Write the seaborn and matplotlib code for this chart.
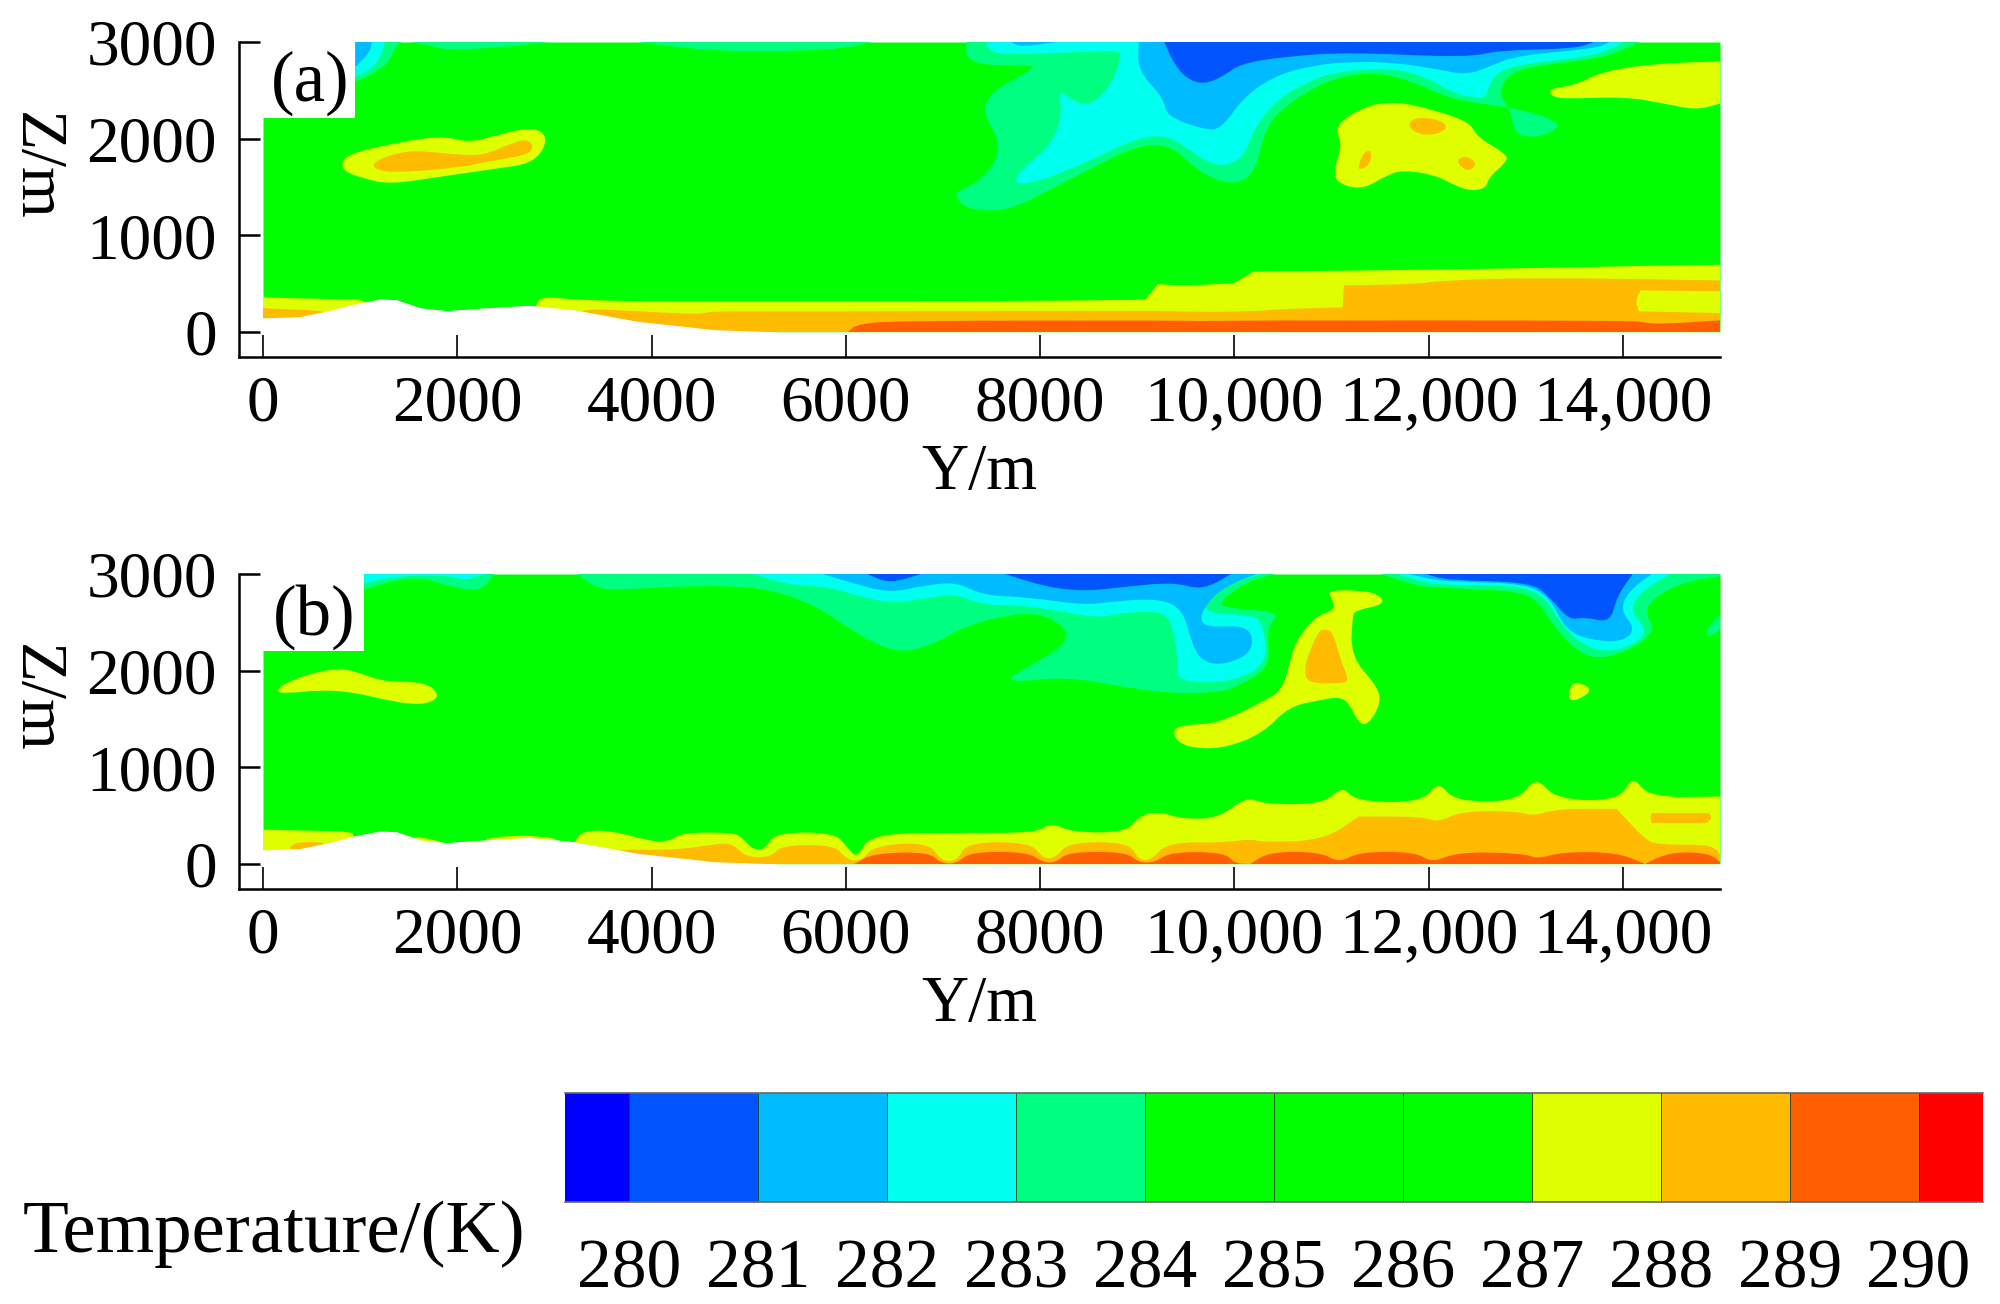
import matplotlib
matplotlib.use("Agg")
import matplotlib.pyplot as plt
from matplotlib.colors import BoundaryNorm, ListedColormap
from matplotlib.patches import PathPatch
from matplotlib.path import Path
import numpy as np
import seaborn as sns

# =========================================================================
# 1. DATA (Y in m, Z in m, T in K)
# =========================================================================
x_ticks = [0, 2000, 4000, 6000, 8000, 10000, 12000, 14000]
x_tick_labels = ["0", "2000", "4000", "6000", "8000", "10,000", "12,000", "14,000"]
z_ticks = [0, 1000, 2000, 3000]
z_tick_labels = ["0", "1000", "2000", "3000"]

# Colour scale: the strip is drawn as half degree cells
band_names = ["<280", "280", "281", "282", "283", "284", "285", "286", "287", "288", "289", ">290"]
band_colors = ["#0000FF", "#0055FF", "#00BBFF", "#00FFEE", "#00FF80", "#00FF00",
               "#00FF00", "#00FF00", "#DFFF00", "#FFBB00", "#FF5F00", "#FF0000"]
scale_edges = [279.5, 280, 281, 282, 283, 284, 285, 286, 287, 288, 289, 290, 290.5]
scale_cells = [279.75, 280.25, 280.75, 281.25, 281.75, 282.25, 282.75, 283.25, 283.75, 284.25, 284.75,
               285.25, 285.75, 286.25, 286.75, 287.25, 287.75, 288.25, 288.75, 289.25, 289.75, 290.25]
scale_labels = ["280", "281", "282", "283", "284", "285", "286", "287", "288", "289", "290"]

# Ground line, shared by both sections
terrain_y = [0, 380, 640, 905, 1200, 1365, 1627, 1890, 2283, 2742, 3200, 3857, 4644, 5300, 15000]
terrain_z = [145, 160, 213, 282, 340, 334, 248, 220, 248, 275, 230, 110, 24, 0, 0]

# --- Section (a) ---
a_mask_y, a_mask_z = 950, 2214

a_y287_left_y = [0, 450, 800, 1100, 1100, 0]
a_y287_left_z = [358, 345, 340, 334, 0, 145]
a_o288_left_y = [0, 200, 545, 660, 660, 0]
a_o288_left_z = [248, 237, 224, 200, 0, 145]

# repeated points keep the steps of the low layers sharp
a_y287_low_y = [2800, 2873, 3200, 3857, 4513, 6556, 8163, 9080, 9080, 9212, 9212, 9508, 10000, 10000, 10197,
                10197, 11148, 13116, 14362, 15000, 15000, 2800]
a_y287_low_z = [275, 368, 334, 316, 316, 316, 323, 334, 334, 495, 495, 478, 506, 506, 626,
                626, 633, 660, 688, 695, 0, 0]
a_o288_low_y = [3200, 3857, 4513, 4578, 5170, 6556, 9180, 9640, 10200, 10492, 11115, 11115, 11128, 11128,
                11900, 12130, 13116, 15000, 15000, 3200]
a_o288_low_z = [248, 215, 179, 213, 213, 213, 220, 206, 213, 237, 255, 255, 482, 482,
                495, 533, 564, 533, 0, 0]
a_y287_hole_y = [14185, 14185, 15000, 15000, 14165, 14165, 14130]
a_y287_hole_z = [430, 430, 420, 196, 213, 213, 334]
a_r289_low_y = [6022, 6120, 6612, 9508, 9640, 9970, 14100, 14230, 14428, 15000, 15000, 6022]
a_r289_low_z = [0, 86, 117, 120, 110, 120, 120, 93, 83, 120, 0, 0]

a_y287_west_y = [807, 872, 1168, 1824, 2119, 2414, 2676, 2873, 2926, 2775, 2414, 1824, 1299, 1036, 840]
a_y287_west_z = [1744, 1830, 1916, 2036, 1957, 2036, 2105, 2088, 1950, 1744, 1692, 1606, 1527, 1589, 1658]
a_o288_west_y = [1122, 1299, 1561, 2020, 2283, 2545, 2755, 2788, 2414, 1955, 1364, 1168]
a_o288_west_z = [1744, 1830, 1882, 1830, 1830, 1950, 2002, 1847, 1778, 1692, 1648, 1675]

a_g283_nw_y = [951, 1430, 1365, 1300, 1233, 1100, 951]
a_g283_nw_z = [3000, 3000, 2960, 2800, 2742, 2650, 2587]
a_c282_nw_y = [951, 1253, 1213, 1120, 951]
a_c282_nw_z = [3000, 3000, 2845, 2720, 2640]
a_b281_nw_y = [951, 1122, 1102, 951]
a_b281_nw_z = [3000, 3000, 2896, 2742]
a_g283_top1_y = [1500, 1700, 1889, 2300, 2600, 2940]
a_g283_top1_z = [3000, 2970, 2914, 2935, 2960, 3000]
a_g283_top2_y = [3850, 4250, 4700, 5500, 6000, 6270]
a_g283_top2_z = [3000, 2950, 2905, 2905, 2935, 3000]

a_g283_y = [7245, 7232, 7409, 7900, 7934, 7540, 7409, 7474, 7573, 7540, 7343, 7133, 7146, 7278, 7671,
            8098, 8524, 8983, 9246, 9442, 9639, 9902, 10098, 10230, 10295, 10426, 10820, 11148, 11476,
            11804, 12132, 12394, 12788, 13116, 13365, 13247, 13050, 12886, 12840, 12722, 12821, 13116,
            13772, 14067, 14166]
a_g283_z = [3000, 2845, 2759, 2759, 2724, 2518, 2329, 2157, 1985, 1744, 1538, 1452, 1366, 1262, 1252,
            1469, 1692, 1916, 1944, 1847, 1658, 1538, 1555, 1710, 2019, 2260, 2535, 2656, 2680,
            2604, 2449, 2380, 2329, 2260, 2150, 2054, 2009, 2054, 2294, 2466, 2673, 2759,
            2828, 2948, 3000]
a_c282_y = [7442, 7474, 7638, 8786, 8839, 8754, 8524, 8327, 8183, 8229, 8130, 7802, 7724, 7934, 8458,
            8983, 9279, 9475, 9705, 9902, 10098, 10197, 10426, 10820, 11148, 11673, 12001, 12263, 12526,
            12591, 12657, 12854, 13640, 13936, 14002]
a_c282_z = [3000, 2914, 2862, 2914, 2879, 2587, 2336, 2398, 2508, 2260, 1950, 1675, 1538, 1538, 1744,
            2002, 2036, 1933, 1761, 1710, 1813, 2088, 2398, 2622, 2707, 2725, 2621, 2466, 2415,
            2432, 2639, 2759, 2845, 2948, 3000]
a_b281_y = [9016, 9003, 9278, 9298, 9705, 9869, 10098, 10426, 10820, 11148, 11607, 12066, 12394, 12657,
            12919, 13706, 13870]
a_b281_z = [3000, 2707, 2415, 2233, 2088, 2105, 2432, 2656, 2759, 2793, 2793, 2724, 2656, 2759,
            2862, 2931, 3000]
a_b281_patch_y = [7704, 7802, 8163]
a_b281_patch_z = [3000, 2948, 3000]
a_d280_y = [9278, 9377, 9508, 9692, 9902, 10066, 10492, 11148, 12394, 12722, 13510, 13703]
a_d280_z = [3000, 2776, 2621, 2559, 2656, 2776, 2845, 2896, 2838, 2914, 2931, 3000]

a_y287_east_y = [13228, 13510, 13772, 14297, 15000, 15000, 14756, 14428, 14034, 13510, 13280]
a_y287_east_z = [2518, 2552, 2690, 2776, 2800, 2363, 2295, 2363, 2432, 2415, 2422]
a_y287_mid_y = [11036, 11148, 11410, 11673, 12001, 12427, 12493, 12821, 12788, 12624, 12591, 12427,
                12263, 12066, 11738, 11574, 11345, 11148, 11004, 11115]
a_y287_mid_z = [2088, 2226, 2353, 2380, 2312, 2174, 2019, 1830, 1744, 1606, 1486, 1459,
                1520, 1624, 1675, 1624, 1486, 1503, 1606, 1950]
a_o288_s1_y = [11790, 11902, 12140, 12200, 12001, 11825]
a_o288_s1_z = [2170, 2225, 2190, 2095, 2025, 2080]
a_o288_s2_y = [11270, 11335, 11420, 11395, 11300]
a_o288_s2_z = [1700, 1870, 1875, 1730, 1680]
a_o288_s3_y = [12300, 12394, 12500, 12425, 12315]
a_o288_s3_z = [1795, 1820, 1745, 1660, 1715]

# --- Section (b) ---
b_mask_y, b_mask_z = 1043, 2203

b_y287_left_y = [0, 500, 905, 940, 940, 0]
b_y287_left_z = [354, 344, 337, 285, 0, 145]
b_o288_left_y = [282, 577, 660, 282]
b_o288_left_z = [217, 234, 190, 100]
b_y287_sl1_y = [1500, 1900, 1700]
b_y287_sl1_z = [300, 220, 200]
b_y287_sl2_y = [2280, 2550, 2800, 3100, 2700, 2300]
b_y287_sl2_z = [265, 292, 292, 250, 200, 200]

b_y287_low_y = [3200, 3300, 3595, 3988, 4185, 4316, 4841, 4939, 5038, 5170, 5268, 5891, 6022, 6120, 6252,
                7212, 7966, 8110, 8327, 8885, 9016, 9212, 9475, 9836, 10131, 10295, 10918, 11115, 11247,
                11935, 12099, 12263, 12919, 13103, 13313, 13969, 14100, 14264, 15000, 15000, 3200]
b_y287_low_z = [234, 345, 345, 234, 234, 325, 325, 268, 150, 150, 325, 325, 160, 60, 315,
                322, 322, 430, 327, 327, 490, 545, 464, 475, 700, 619, 619, 810, 647,
                636, 860, 647, 647, 910, 664, 657, 920, 688, 698, 0, 0]
b_o288_low_y = [3529, 4251, 4710, 4841, 4972, 5235, 5333, 5891, 5990, 6153, 6284, 6851, 6982, 7146, 7245,
                7900, 8032, 8163, 8294, 8918, 9016, 9147, 9311, 9902, 10164, 10295, 10918, 11279, 11279,
                11935, 12099, 12329, 12919, 13083, 13313, 13936, 13936, 14231, 14362, 14821, 14953, 15000,
                15000, 3529]
b_o288_low_z = [155, 141, 215, 205, 70, 70, 195, 195, 60, 20, 190, 225, 30, 30, 225,
                225, 55, 65, 225, 225, 40, 40, 225, 220, 260, 224, 244, 490, 490,
                490, 430, 545, 545, 495, 570, 570, 570, 251, 200, 200, 165, 96, 0, 0]
b_o288_isl_y = [14297, 14297, 14887, 14887, 14920, 14854, 14854, 14297, 14297, 14280]
b_o288_isl_z = [526, 526, 526, 526, 475, 423, 423, 423, 423, 475]
b_r289_low_y = [6088, 6284, 6851, 6982, 7146, 7277, 7868, 8032, 8163, 8294, 8885, 9016, 9180, 9344, 9902,
                10000, 10164, 10360, 10885, 11082, 11279, 11870, 12034, 12296, 12985, 13116, 13378, 13936,
                14231, 14362, 14559, 14887, 15000, 15000, 6088]
b_r289_low_z = [0, 110, 125, 5, 5, 125, 125, 15, 15, 125, 125, 15, 15, 125, 120,
                5, 0, 125, 125, 10, 125, 125, 10, 125, 110, 50, 125, 120,
                0, 70, 125, 110, 20, 0, 0]

b_y287_west_y = [131, 216, 512, 774, 971, 1233, 1660, 1810, 1758, 1561, 1233, 905, 577, 249]
b_y287_west_z = [1782, 1868, 1978, 2023, 1988, 1885, 1885, 1765, 1679, 1645, 1703, 1782, 1799, 1765]

b_g283_nw_y = [1043, 2381, 2283, 2152, 1889, 1627, 1364, 1043]
b_g283_nw_z = [3000, 3000, 2866, 2824, 2883, 2962, 2941, 2838]
b_c282_nw_y = [1043, 2300, 2184, 2086, 1889, 1364, 1043]
b_c282_nw_z = [3000, 3000, 2969, 2934, 2986, 2979, 2904]

b_g283_y = [3234, 3464, 3857, 4513, 5170, 5694, 6153, 6547, 6884, 7212, 7671, 7999, 8229, 8294, 8130, 7737,
            7671, 8262, 8852, 9311, 9836, 10066, 10374, 10328, 10492, 9836, 9902, 10164, 10426]
b_g283_z = [3000, 2831, 2848, 2883, 2858, 2676, 2350, 2178, 2264, 2453, 2580, 2590, 2470, 2350, 2178, 1971,
            1875, 1937, 1834, 1765, 1771, 1851, 2040, 2453, 2608, 2652, 2762, 2934, 3000]
b_c282_thin_y = [3365, 3529, 3857, 4513, 5100]
b_c282_thin_z = [3000, 2934, 2950, 2985, 3000]
b_c282_y = [5038, 5431, 5825, 6153, 6481, 6809, 7137, 7409, 7868, 8590, 8786, 9278, 9377, 9423, 9410,
            9967, 10348, 10295, 10197, 9770, 9672, 9803, 10098, 10295]
b_c282_z = [3000, 2883, 2866, 2762, 2700, 2745, 2797, 2676, 2676, 2539, 2590, 2624, 2418, 2074, 1885,
            1875, 2074, 2487, 2573, 2590, 2676, 2831, 2952, 3000]
b_b281_y = [5760, 6088, 6450, 6818, 7146, 7409, 7868, 8458, 8786, 9246, 9475, 9560, 9672, 9902, 10197,
            10164, 9705, 9639, 9770, 9967, 10230]
b_b281_z = [3000, 2900, 2804, 2883, 2917, 2779, 2762, 2676, 2721, 2745, 2625, 2281, 2092, 2057, 2195,
            2470, 2446, 2556, 2762, 2900, 3000]
b_d280_p1_y = [6219, 6450, 6776]
b_d280_p1_z = [3000, 2900, 3000]
b_d280_p2_y = [7638, 8065, 8458, 8852, 9377, 9672, 9967]
b_d280_p2_z = [3000, 2865, 2821, 2865, 2917, 2831, 3000]

b_g283_e_y = [11509, 11804, 12001, 12854, 13116, 13313, 13575, 13838, 14166, 14330, 14231, 14297, 14625,
              15000, 15000]
b_g283_e_z = [3000, 2900, 2859, 2831, 2745, 2418, 2160, 2126, 2264, 2436, 2590, 2745, 2917, 2976, 3000]
b_c282_e_y = [11673, 11935, 12198, 12854, 13181, 13378, 13640, 13903, 14198, 14231, 14067, 14198, 14494]
b_c282_e_z = [3000, 2917, 2883, 2883, 2797, 2453, 2229, 2195, 2315, 2453, 2625, 2831, 3000]
b_b281_e_y = [11804, 12066, 12394, 12985, 13247, 13411, 13674, 14002, 14133, 13969, 14067, 14297]
b_b281_e_z = [3000, 2934, 2917, 2900, 2762, 2418, 2315, 2298, 2436, 2625, 2831, 3000]
b_d280_e_y = [11968, 12198, 13050, 13247, 13444, 13608, 13870, 13936, 14100]
b_d280_e_z = [3000, 2934, 2917, 2762, 2522, 2556, 2494, 2762, 3000]
b_g283_edge_y = [15000, 14874, 14854, 15000]
b_g283_edge_z = [2573, 2453, 2332, 2418]

b_y287_mid_y = [10951, 11279, 11476, 11555, 11247, 11214, 11200, 11476, 11509, 11378, 11279, 11181, 11082,
                10885, 10558, 10295, 9902, 9574, 9410, 9364, 9475, 9836, 10295, 10492, 10570, 10623, 10820,
                11030, 11017]
b_y287_mid_z = [2831, 2831, 2797, 2687, 2625, 2556, 2143, 1834, 1662, 1438, 1455, 1662, 1730,
                1696, 1627, 1352, 1197, 1197, 1266, 1386, 1438, 1455, 1679, 1799, 2074, 2281, 2556,
                2625, 2728]
b_o288_mid_y = [10853, 10918, 11017, 11082, 11181, 11115, 10754, 10722, 10754]
b_o288_mid_z = [2384, 2435, 2401, 2143, 1902, 1868, 1868, 2006, 2143]
b_y287_spot_y = [13497, 13575, 13687, 13542, 13444, 13444]
b_y287_spot_z = [1878, 1868, 1799, 1696, 1696, 1799]

# Isotherm bands in drawing order, outermost first
a_bands = [
    ("283", a_g283_nw_y, a_g283_nw_z), ("282", a_c282_nw_y, a_c282_nw_z), ("281", a_b281_nw_y, a_b281_nw_z),
    ("283", a_g283_top1_y, a_g283_top1_z), ("283", a_g283_top2_y, a_g283_top2_z),
    ("283", a_g283_y, a_g283_z), ("282", a_c282_y, a_c282_z), ("281", a_b281_y, a_b281_z),
    ("281", a_b281_patch_y, a_b281_patch_z), ("280", a_d280_y, a_d280_z),
    ("287", a_y287_west_y, a_y287_west_z), ("288", a_o288_west_y, a_o288_west_z),
    ("287", a_y287_east_y, a_y287_east_z), ("287", a_y287_mid_y, a_y287_mid_z),
    ("288", a_o288_s1_y, a_o288_s1_z), ("288", a_o288_s2_y, a_o288_s2_z), ("288", a_o288_s3_y, a_o288_s3_z),
    ("287", a_y287_left_y, a_y287_left_z), ("288", a_o288_left_y, a_o288_left_z),
    ("287", a_y287_low_y, a_y287_low_z), ("288", a_o288_low_y, a_o288_low_z),
    ("287", a_y287_hole_y, a_y287_hole_z), ("289", a_r289_low_y, a_r289_low_z),
]
b_bands = [
    ("283", b_g283_nw_y, b_g283_nw_z), ("282", b_c282_nw_y, b_c282_nw_z),
    ("282", b_c282_thin_y, b_c282_thin_z),
    ("283", b_g283_y, b_g283_z), ("282", b_c282_y, b_c282_z), ("281", b_b281_y, b_b281_z),
    ("280", b_d280_p1_y, b_d280_p1_z), ("280", b_d280_p2_y, b_d280_p2_z),
    ("283", b_g283_e_y, b_g283_e_z), ("282", b_c282_e_y, b_c282_e_z), ("281", b_b281_e_y, b_b281_e_z),
    ("280", b_d280_e_y, b_d280_e_z), ("283", b_g283_edge_y, b_g283_edge_z),
    ("287", b_y287_west_y, b_y287_west_z), ("287", b_y287_mid_y, b_y287_mid_z),
    ("288", b_o288_mid_y, b_o288_mid_z), ("287", b_y287_spot_y, b_y287_spot_z),
    ("287", b_y287_left_y, b_y287_left_z), ("288", b_o288_left_y, b_o288_left_z),
    ("287", b_y287_sl1_y, b_y287_sl1_z), ("287", b_y287_sl2_y, b_y287_sl2_z),
    ("287", b_y287_low_y, b_y287_low_z), ("288", b_o288_low_y, b_o288_low_z),
    ("288", b_o288_isl_y, b_o288_isl_z), ("289", b_r289_low_y, b_r289_low_z),
]

# =========================================================================
# 2. STYLE
# =========================================================================
sns.set_theme(style="white")
plt.rcParams["font.family"] = ["Liberation Serif", "DejaVu Serif"]
plt.rcParams["text.color"] = "black"
plt.rcParams["axes.labelcolor"] = "black"
plt.rcParams["xtick.color"] = "black"
plt.rcParams["ytick.color"] = "black"
palette = dict(zip(band_names, sns.color_palette(band_colors, len(band_colors))))
W, H = 2000, 1304
fig = plt.figure(figsize=(W / 100, H / 100), dpi=100)


def axes_from_pixels(left, top, right, bottom):
    return fig.add_axes([left / W, 1 - bottom / H, (right - left) / W, (bottom - top) / H])


def band_patch(band_y, band_z, color):
    # Outline points act as spline controls, those on the domain edge stay sharp corners
    pts = np.column_stack([band_y, band_z]).astype(float)
    mids = (pts + np.roll(pts, -1, axis=0)) / 2
    verts, codes = [mids[-1]], [Path.MOVETO]
    for pt, mid in zip(pts, mids):
        on_edge = pt[1] <= 0 or pt[1] >= 3000 or pt[0] in (0, 951, 1043, 15000)
        verts += [pt, mid]
        codes += [Path.LINETO, Path.LINETO] if on_edge else [Path.CURVE3, Path.CURVE3]
    verts.append(mids[-1])
    codes.append(Path.CLOSEPOLY)
    return PathPatch(Path(verts, codes), facecolor=color, edgecolor="none", lw=0)


def draw_section(ax, bands, mask_y, mask_z, tag, tag_y, tag_z):
    ax.fill_between(terrain_y, terrain_z, 3000, color=palette["285"], lw=0)
    for name, band_y, band_z in bands:
        ax.add_patch(band_patch(band_y, band_z, palette[name]))
    # ground and the white box behind the panel letter
    ax.fill_between(terrain_y, -5, terrain_z, color="white", lw=0)
    ax.fill_between([0, mask_y], mask_z, 3005, color="white", lw=0)
    ax.text(tag_y, tag_z, tag, fontsize=51, ha="center", va="center")

    ax.set_xlim(-247, 15000)
    ax.set_ylim(-259, 3000)
    ax.set_xticks(x_ticks, x_tick_labels)
    ax.set_yticks(z_ticks, z_tick_labels)
    ax.tick_params(axis="x", bottom=True, direction="in", length=16, width=1.2, labelsize=47, pad=13)
    ax.tick_params(axis="y", left=True, direction="in", length=15, width=1.8, labelsize=47, pad=16)
    sns.despine(ax=ax)
    for side in ["left", "bottom"]:
        ax.spines[side].set_color("black")
        ax.spines[side].set_linewidth(1.8)
    ax.set_xlabel("Y/m", fontsize=47)
    ax.set_ylabel("Z/m", fontsize=47, rotation=270, va="center", ha="center")
    ax.yaxis.set_label_coords(-0.138, 0.605)
    ax.xaxis.set_label_coords(0.5, -0.275)


# =========================================================================
# 3. SECTIONS
# =========================================================================
ax_a = axes_from_pixels(239, 42, 1720, 357)
draw_section(ax_a, a_bands, a_mask_y, a_mask_z, "(a)", 484, 2575)
ax_b = axes_from_pixels(239, 574, 1720, 889)
draw_section(ax_b, b_bands, b_mask_y, b_mask_z, "(b)", 525, 2554)

# =========================================================================
# 4. COLOUR STRIP
# =========================================================================
ax_c = axes_from_pixels(565, 1093, 1983, 1202)
cmap = ListedColormap(band_colors)
norm = BoundaryNorm(scale_edges, cmap.N)
sns.heatmap(np.array([scale_cells]), ax=ax_c, cmap=cmap, norm=norm, cbar=False,
            xticklabels=False, yticklabels=False)
tick_pos = np.arange(1, len(scale_cells), 2)
ax_c.set_xticks(tick_pos, scale_labels)
ax_c.tick_params(axis="x", length=0, labelsize=50, pad=27, labelbottom=True)
ax_c.vlines(tick_pos, 0, 1, color="#1a3a1a", lw=0.6)
for side in ["top", "bottom"]:
    ax_c.spines[side].set_visible(True)
    ax_c.spines[side].set_color("#666666")
    ax_c.spines[side].set_linewidth(1.2)

fig.text(274 / W, 1 - 1234 / H, "Temperature/(K)", fontsize=54, ha="center", va="center")

fig.savefig("out.png", dpi=100, facecolor="white")
